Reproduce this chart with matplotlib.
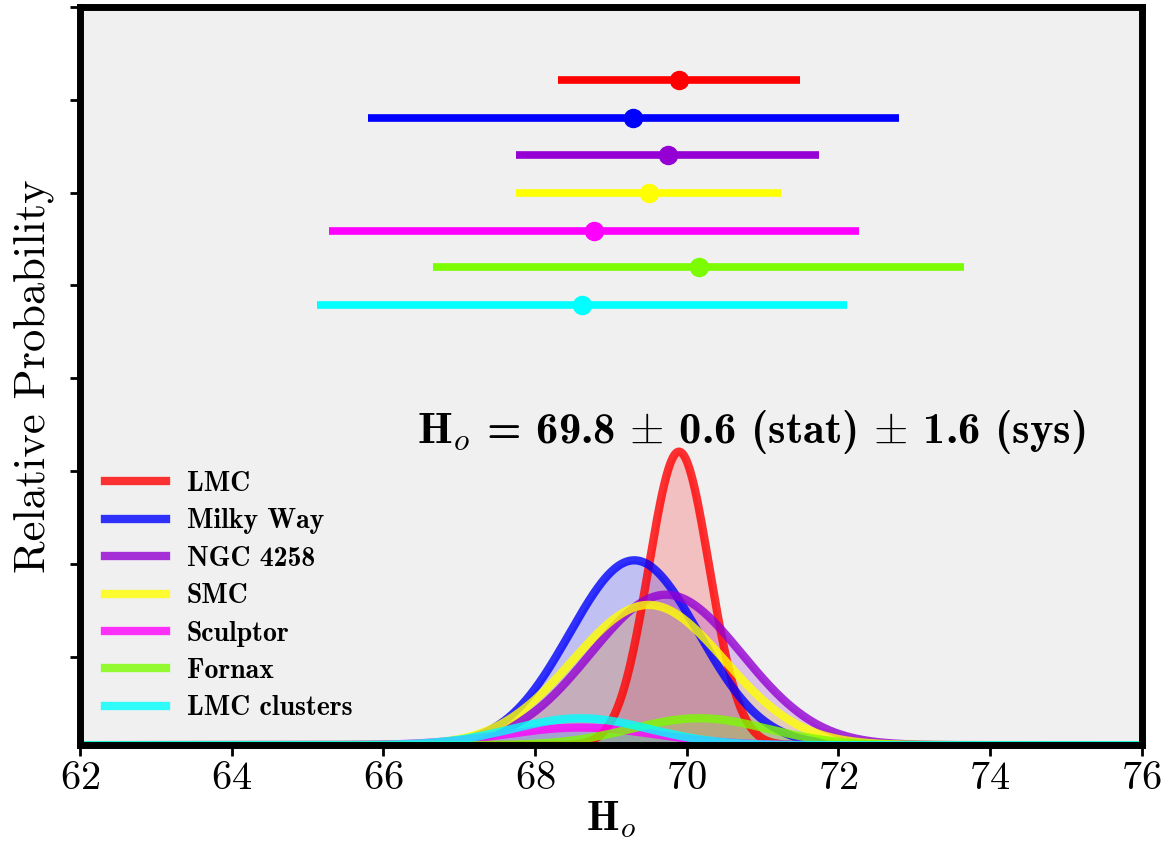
import numpy as np
import matplotlib
matplotlib.use('Agg')
import matplotlib.pyplot as plt

# Data
names = ['LMC', 'Milky Way', 'NGC 4258', 'SMC', 'Sculptor', 'Fornax', 'LMC clusters']
colors = ['red', 'blue', 'darkviolet', 'yellow', 'magenta', 'lawngreen', 'cyan']

# H0 estimate and error bar for each anchor
h0_mid = [69.9, 69.3, 69.75, 69.5, 68.78, 70.16, 68.62]
h0_err = [1.6, 3.5, 2.0, 1.75, 3.5, 3.5, 3.5]
bar_y = [7.16, 6.75, 6.35, 5.95, 5.54, 5.15, 4.74]

# gaussian curves: centre, width, peak height
curve_mu = [69.9, 69.31, 69.73, 69.5, 68.6, 70.17, 68.6]
curve_sig = [0.40, 0.85, 1.0, 1.0, 1.0, 0.9, 0.9]
curve_amp = [3.16, 1.99, 1.62, 1.51, 0.19, 0.29, 0.29]

plt.rcParams['mathtext.fontset'] = 'cm'
plt.rcParams['font.family'] = 'cmr10'
plt.rcParams['axes.formatter.use_mathtext'] = True

fig = plt.figure(figsize=(11.66, 8.42), dpi=100)
ax = fig.add_axes([0.0686, 0.115, 0.9104, 0.877])
ax.set_facecolor('#f0f0f0')

x = np.linspace(62, 76, 1000)
for i in range(len(names)):
    y = curve_amp[i] * np.exp(-0.5 * ((x - curve_mu[i]) / curve_sig[i]) ** 2)
    ax.fill_between(x, 0, y, color=colors[i], alpha=0.2, linewidth=0)
    ax.plot(x, y, color=colors[i], alpha=0.8, lw=6, label=names[i])

# error bars at the top
for i in range(len(names)):
    ax.plot([h0_mid[i] - h0_err[i], h0_mid[i] + h0_err[i]], [bar_y[i], bar_y[i]],
            color=colors[i], lw=5.5, solid_capstyle='butt')
    ax.plot(h0_mid[i], bar_y[i], 'o', color=colors[i], markersize=13)

ax.text(70.85, 3.37, r'$\mathbf{H}_o$ = 69.8 $\pm$ 0.6 (stat) $\pm$ 1.6 (sys)',
        fontsize=32, ha='center', va='center', family='cmb10')

ax.set_xlim(62, 76)
ax.set_ylim(0, 7.95)
ax.set_xticks(np.arange(62, 77, 2))
ax.set_yticks(7.95 - np.arange(8))
ax.set_yticklabels([])
ax.tick_params(axis='x', labelsize=29, direction='out', length=8, width=2)
ax.tick_params(axis='y', direction='out', length=7, width=2)
for s in ax.spines.values():
    s.set_linewidth(5)

ax.set_xlabel(r'$\mathbf{H}_o$', fontsize=30, labelpad=2)
ax.set_ylabel('Relative Probability', fontsize=32, labelpad=8)

leg = ax.legend(loc='upper left', bbox_to_anchor=(0.0, 0.405), frameon=False,
                prop={'family': 'cmb10', 'size': 20}, handlelength=2.2,
                labelspacing=0.41, handletextpad=0.75)

plt.savefig('out.png', dpi=100)
